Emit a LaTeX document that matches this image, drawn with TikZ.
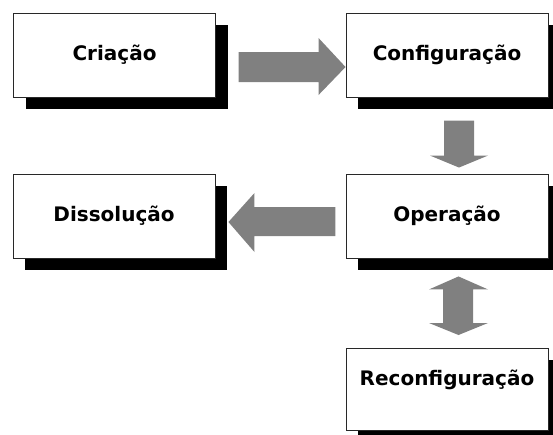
\documentclass[tikz,border=0pt]{standalone}
\usepackage{fontspec}
\setmainfont{DejaVu Sans}
\usetikzlibrary{calc,shadows}
\definecolor{arrgray}{RGB}{128,128,128}
\definecolor{boxline}{RGB}{40,40,40}
\tikzset{
  stagebox/.style={draw=boxline, line width=0.9pt, fill=white, rectangle,
    minimum width=202pt, minimum height=84pt, inner sep=0pt,
    font=\fontsize{20}{23}\selectfont\bfseries,
    general shadow={fill=black, draw=none, shadow xshift=12pt, shadow yshift=-12pt}},
  fatarrow/.style={fill=arrgray, draw=none}
}
\begin{document}
\begin{tikzpicture}[x=1pt,y=-1pt]
\useasboundingbox (0,0) rectangle (553,434);
\node[stagebox] (crea) at (114.5,55) {Criação};
\node[stagebox] (conf) at (447,55) {Configuração};
\node[stagebox] (diss) at (114,216) {Dissolução};
\node[stagebox] (oper) at (447,216) {Operação};
\node[stagebox, minimum height=82pt, anchor=north] (reco) at (447,348) {};
\node[font=\fontsize{20}{23}\selectfont\bfseries, inner sep=0pt] (recotext) at ($(reco.north)+(0,32)$) {Reconfiguração};
% arrow Criação -> Configuração
\coordinate (t1) at ($(conf.west)+(0,12)$);
\fill[fatarrow] (t1) -- ++(-27,-29) -- ++(0,14) -- ++(-80,0) -- ++(0,30) -- ++(80,0) -- ++(0,13) -- cycle;
% arrow Configuração -> Operação
\coordinate (t2) at ($(oper.north)+(12,-6)$);
\fill[fatarrow] (t2) -- ++(29,-12) -- ++(-14,0) -- ++(0,-35) -- ++(-30,0) -- ++(0,35) -- ++(-14,0) -- cycle;
% arrow Operação -> Dissolução
\coordinate (t3) at ($(diss.east)+(13,6)$);
\fill[fatarrow] (t3) -- ++(26,-29) -- ++(0,14) -- ++(81,0) -- ++(0,29) -- ++(-81,0) -- ++(0,16) -- cycle;
% double arrow Operação <-> Reconfiguração
\coordinate (t4) at ($(oper.south)+(11.5,18)$);
\coordinate (t5) at ($(reco.north)+(11.5,-13)$);
\fill[fatarrow] (t4) -- ++(29.5,13) -- ++(-15,0) -- ($(t5)+(14.5,-12)$) -- ++(15,0) -- (t5) -- ++(-29.5,-12) -- ++(14,0) -- ($(t4)+(-15.5,13)$) -- ++(-14,0) -- cycle;
\end{tikzpicture}
\end{document}
